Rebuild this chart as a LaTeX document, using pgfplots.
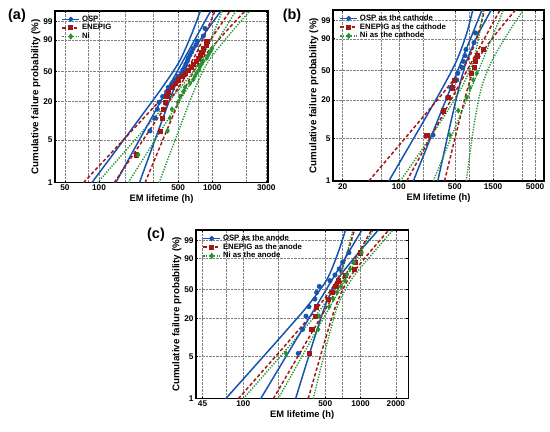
\documentclass[border=0pt]{standalone}
\usepackage{fontspec}
\setmainfont{Liberation Sans}
\usepackage{pgfplots}
\usepackage{pgfplotstable}
\pgfplotsset{compat=1.18}

\definecolor{ospc}{RGB}{20,84,178}
\definecolor{enc}{RGB}{165,22,22}
\definecolor{nic}{RGB}{32,150,44}

% ---------- panel (a) ----------
\pgfplotstableread{
Y ol or el er nl nr
-4.6 1.9374 2.3574 1.8630 2.4070 1.9866 2.5306
-3.4 2.1446 2.4582 2.1228 2.5224 2.2315 2.6349
-2.2 2.3511 2.5597 2.3815 2.6387 2.4754 2.7402
-1.0 2.5546 2.6644 2.6361 2.7593 2.7158 2.8490
0.0 2.7078 2.7678 2.8176 2.8904 2.8929 2.9631
1.0 2.8130 2.9194 2.9312 3.0894 3.0026 3.1444
1.933 2.8949 3.0769 3.0237 3.2885 3.0872 3.3312
}\aB
\pgfplotstableread{
Y L
-2.628 2.450
-2.142 2.494
-1.805 2.515
-1.542 2.530
-1.324 2.562
-1.136 2.598
-0.969 2.612
-0.819 2.644
-0.680 2.671
-0.550 2.697
-0.426 2.730
-0.308 2.741
-0.193 2.759
-0.0805 2.768
0.0306 2.781
0.1427 2.788
0.2565 2.803
0.3745 2.818
0.4991 2.830
0.6347 2.856
0.7887 2.868
0.9797 2.921
1.2671 2.936
}\aO
\pgfplotstableread{
Y L
-3.536 2.327
-2.628 2.538
-2.142 2.556
-1.805 2.565
-1.542 2.583
-1.324 2.598
-1.136 2.612
-0.969 2.644
-0.819 2.671
-0.680 2.697
-0.550 2.730
-0.426 2.759
-0.308 2.786
-0.193 2.812
-0.0805 2.832
0.0306 2.856
0.1427 2.874
0.2565 2.891
0.3745 2.906
0.4991 2.921
0.6347 2.944
0.7887 2.951
}\aE
\pgfplotstableread{
Y L
-3.536 2.347
-2.628 2.606
-2.142 2.627
-1.805 2.644
-1.542 2.697
-1.324 2.715
-1.136 2.744
-0.969 2.759
-0.819 2.803
-0.680 2.832
-0.550 2.847
-0.426 2.862
-0.308 2.883
-0.193 2.891
-0.0805 2.906
0.0306 2.921
0.1427 2.951
0.2565 2.965
0.3745 2.980
0.4991 2.997
}\aN

% ---------- panel (b) ----------
\pgfplotstableread{
Y ol or el er nl nr
-4.6 1.8763 2.4863 1.6270 2.5710 2.0197 2.8417
-3.4 2.1047 2.5725 1.9591 2.6663 2.2881 2.8939
-2.2 2.3315 2.6605 2.2899 2.7629 2.5501 2.9525
-1.0 2.5531 2.7535 2.6156 2.8646 2.7889 3.0345
0.0 2.7215 2.8477 2.8575 2.9789 2.9282 3.1624
1.0 2.8428 2.9886 2.9878 3.2048 3.0048 3.3530
1.933 2.9229 3.1529 3.0694 3.4554 3.0545 3.5525
}\bB
\pgfplotstableread{
Y L
-2.845 2.427
-1.914 2.552
-1.405 2.608
-1.037 2.648
-0.7415 2.723
-0.4852 2.735
-0.252 2.785
-0.0303 2.805
0.190 2.826
0.4218 2.838
0.6867 2.938
1.0556 2.957
}\bO
\pgfplotstableread{
Y L
-2.845 2.348
-1.914 2.555
-1.405 2.618
-1.037 2.668
-0.7415 2.693
-0.4852 2.900
-0.252 2.942
-0.0303 2.957
0.190 2.976
0.4218 3.054
}\bE
\pgfplotstableread{
Y L
-2.845 2.639
-1.914 2.742
-1.405 2.847
-1.037 2.888
-0.7415 2.929
-0.4852 2.972
}\bN

% ---------- panel (c) ----------
\pgfplotstableread{
Y ol or el er nl nr
-4.6 1.8503 2.4463 1.9578 2.5538 2.0004 2.5964
-3.4 2.0862 2.5276 2.1905 2.6293 2.2316 2.6618
-2.2 2.3208 2.6104 2.4217 2.7063 2.4611 2.7289
-1.0 2.5498 2.6986 2.6468 2.7892 2.6818 2.8048
0.0 2.7110 2.8018 2.8000 2.8928 2.8137 2.9199
1.0 2.8041 2.9731 2.8849 3.0647 2.8821 3.0987
1.933 2.8719 3.1519 2.9476 3.2416 2.9357 3.2757
}\cB
\pgfplotstableread{
Y L
-2.845 2.469
-1.914 2.506
-1.405 2.535
-1.037 2.560
-0.7415 2.611
-0.4852 2.626
-0.252 2.648
-0.0303 2.739
0.190 2.782
0.4218 2.818
0.6867 2.847
1.0556 2.901
}\cO
\pgfplotstableread{
Y L
-2.845 2.563
-1.914 2.583
-1.405 2.611
-1.037 2.624
-0.7415 2.725
-0.4852 2.759
-0.252 2.788
-0.0303 2.807
0.190 2.867
0.4218 2.944
0.6867 2.952
1.0556 2.995
}\cE
\pgfplotstableread{
Y L
-2.845 2.364
-1.914 2.639
-1.405 2.648
-1.037 2.733
-0.7415 2.767
-0.4852 2.801
-0.252 2.833
-0.0303 2.867
0.190 2.882
0.4218 2.910
0.6867 2.944
1.0556 3.009
}\cN

\pgfplotsset{
  ospL/.style={color=ospc, line width=1.5pt, solid},
  enL/.style={color=enc, line width=1.5pt, dash pattern=on 3.5pt off 2.3pt},
  niL/.style={color=nic, line width=1.4pt, dash pattern=on 1.3pt off 1.4pt},
  ospM/.style={only marks, color=ospc, mark=*, mark size=2.3pt},
  enM/.style={only marks, color=enc, mark=square*, mark size=2.1pt},
  niM/.style={only marks, color=nic, mark=diamond*, mark size=2.6pt},
  wbl/.style={
    scale only axis, anchor=south west,
    ymin=-4.6001, ymax=1.9326,
    ytick={-4.6001,-2.9702,-1.4999,-0.3665,0.8340,1.5272},
    yticklabels={1,5,20,50,90,99},
    grid=both,
    major grid style={densely dotted, black!50, line width=0.5pt},
    minor grid style={densely dotted, black!50, line width=0.5pt},
    minor tick length=0pt, major tick length=2pt,
    tick align=inside,
    axis line style={line width=1.3pt},
    tick style={black, line width=0.6pt},
    ticklabel style={font=\fontsize{8.3}{9}\selectfont\bfseries},
    /pgf/number format/assume math mode=true,
    xlabel={EM lifetime (h)},
    ylabel={Cumulative failure probability (\%)},
    xlabel style={font=\fontsize{9.4}{10}\selectfont\bfseries, yshift=3pt},
    ylabel style={font=\fontsize{9.8}{10}\selectfont\bfseries, yshift=-4pt},
    xticklabel style={yshift=1pt}, yticklabel style={xshift=1pt},
    legend cell align=left,
    legend style={draw=none, fill=none, font=\fontsize{7.8}{8.5}\selectfont\bfseries,
      at={(0.025,0.99)}, anchor=north west, row sep=-2.4pt, inner sep=1pt},
  },
}

\newcommand{\panel}[4]{% bounds, osp, en, ni tables
  \addlegendimage{ospL, mark=*, mark size=1.8pt, mark options={solid}}
  \addlegendimage{enL, mark=square*, mark size=1.7pt, mark options={solid}}
  \addlegendimage{niL, mark=diamond*, mark size=2.1pt, mark options={solid}}
  \addplot[ospL, smooth] table[x=ol, y=Y] {#1};
  \addplot[ospL, smooth] table[x=or, y=Y] {#1};
  \addplot[enL, smooth] table[x=el, y=Y] {#1};
  \addplot[enL, smooth] table[x=er, y=Y] {#1};
  \addplot[niL, smooth] table[x=nl, y=Y] {#1};
  \addplot[niL, smooth] table[x=nr, y=Y] {#1};
  \addplot[ospM] table[x=L, y=Y] {#2};
  \addplot[enM] table[x=L, y=Y] {#3};
  \addplot[niM] table[x=L, y=Y] {#4};
}

\begin{document}
\begin{tikzpicture}
\path[use as bounding box] (0,0) rectangle (550bp,432bp);

% (a)
\begin{axis}[wbl, at={(55bp,249.3bp)}, width=213bp, height=171.7bp,
  xmin=1.612, xmax=3.492,
  xtick={1.69897,2,2.69897,3,3.47712}, xticklabels={50,100,500,1000,3000},
  minor xtick={1.90309,2.23045,2.47712,2.87506,3.30103}]
  \panel{\aB}{\aO}{\aE}{\aN}
  \addplot[ospL] coordinates {(2.1474,-4.6001) (2.9859,1.9326)};
  \addplot[enL] coordinates {(2.1350,-4.6001) (3.1561,1.9326)};
  \addplot[niL] coordinates {(2.2586,-4.6001) (3.2092,1.9326)};
  \legend{OSP,ENEPIG,Ni}
\end{axis}

% (b)
\begin{axis}[wbl, at={(333bp,251bp)}, width=211bp, height=171bp,
  xmin=1.180, xmax=3.811,
  xtick={1.30103,2,2.69897,3.17609,3.69897}, xticklabels={20,100,500,1500,5000},
  minor xtick={1.77815,2.30103,2.87506,3.54407}]
  \panel{\bB}{\bO}{\bE}{\bN}
  \addplot[ospL] coordinates {(2.1813,-4.6001) (3.0379,1.9326)};
  \addplot[enL] coordinates {(2.0990,-4.6001) (3.2624,1.9326)};
  \addplot[niL] coordinates {(2.4307,-4.6001) (3.3035,1.9326)};
  \legend{OSP as the cathode,ENEPIG as the cathode,Ni as the cathode}
\end{axis}

% (c)
\begin{axis}[wbl, at={(196bp,33.3bp)}, width=212.3bp, height=168.7bp,
  xmin=1.597, xmax=3.407,
  xtick={1.65321,2,2.69897,3,3.30103}, xticklabels={45,100,500,1000,2000},
  minor xtick={1.85733,2.30103,2.84510}]
  \panel{\cB}{\cO}{\cE}{\cN}
  \addplot[ospL] coordinates {(2.1483,-4.6001) (3.0119,1.9326)};
  \addplot[enL] coordinates {(2.2558,-4.6001) (3.0946,1.9326)};
  \addplot[niL] coordinates {(2.2984,-4.6001) (3.1057,1.9326)};
  \legend{OSP as the anode,ENEPIG as the anode,Ni as the anode}
\end{axis}

\node[font=\fontsize{14.5}{15}\selectfont\bfseries] at (17bp,416bp) {(a)};
\node[font=\fontsize{14.5}{15}\selectfont\bfseries] at (292bp,416bp) {(b)};
\node[font=\fontsize{14.5}{15}\selectfont\bfseries] at (156bp,197bp) {(c)};
\end{tikzpicture}
\end{document}
